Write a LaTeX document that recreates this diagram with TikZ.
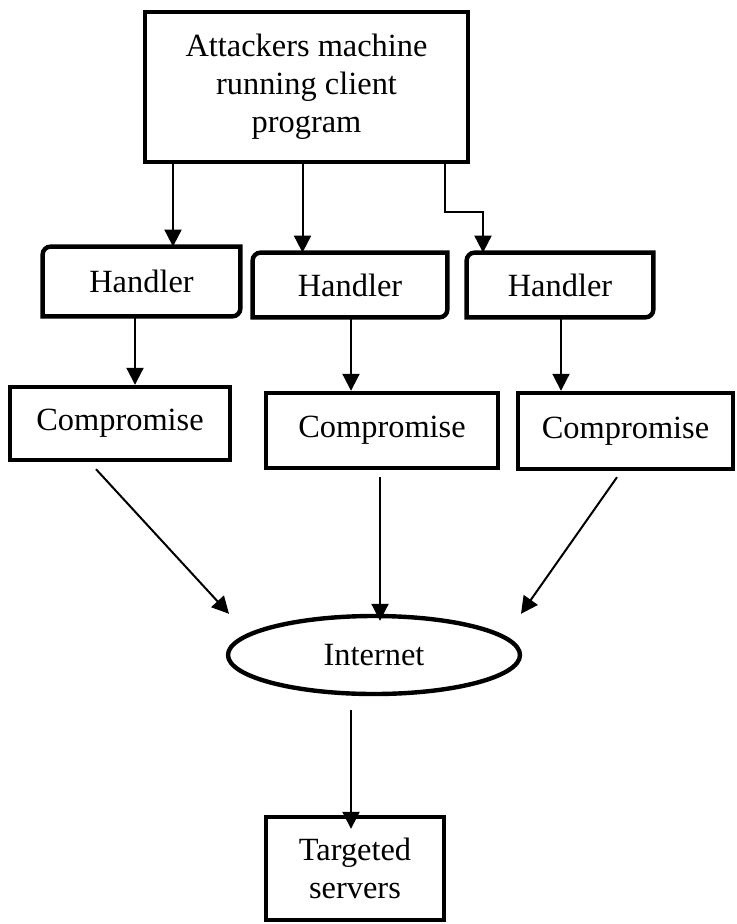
\documentclass[tikz,border=0pt]{standalone}
\usepackage{fontspec}
\setmainfont{Liberation Serif}
\usetikzlibrary{arrows.meta,shapes.geometric}

\begin{document}
\begin{tikzpicture}[
        x=0.5pt, y=-0.5pt,
        font=\fontsize{16.2}{19}\selectfont,
        >=Latex,
        host/.style={draw=black, line width=2.2pt, align=center, inner sep=2pt, minimum width=161.5pt, minimum height=75pt},
        handler/.style={align=center, inner sep=2pt},
        border/.style={draw=black, line width=2.2pt},
        zombie/.style={draw=black, line width=2.2pt, align=center, inner sep=2pt, minimum height=37pt},
        net/.style={ellipse, draw=black, line width=2.2pt, inner sep=0pt, minimum width=146pt, minimum height=39pt},
        victim/.style={draw=black, line width=2.2pt, align=center, inner sep=2pt, minimum width=89pt, minimum height=51.5pt},
        link/.style={draw=black, line width=1pt, -{Triangle[length=8.5pt,width=8.5pt]}}
    ]
        \useasboundingbox (0,0) rectangle (737,924);

        \node[host] (attack) at (306.5,87) {Attackers machine\\running client\\program};

        \node[handler, minimum width=98.5pt, minimum height=34.5pt] (h1) at (141.5,281.5) {Handler};
        \node[handler, minimum width=97pt, minimum height=32pt] (h2) at (350,285) {Handler};
        \node[handler, minimum width=93pt, minimum height=32pt] (h3) at (560,285) {Handler};

        % handler outline: round top left and bottom right only
        \foreach \h in {h1,h2,h3}
            \draw[border] (\h.south west) -- ([yshift=-4pt]\h.north west) arc(180:90:4pt)
                -- (\h.north east) -- ([yshift=4pt]\h.south east) arc(0:-90:4pt) -- cycle;

        \node[zombie, minimum width=110pt, minimum height=36.5pt] (c1) at (120,423.5) {Compromise};
        \node[zombie, minimum width=116pt, minimum height=37.5pt] (c2) at (382,430.5) {Compromise};
        \node[zombie, minimum width=107.5pt, minimum height=38pt] (c3) at (625.5,431) {Compromise};

        \node[net] (inet) at (374,655) {Internet};
        \node[victim] (target) at (355,868.5) {Targeted\\servers};

        \draw[link] ([xshift=-66.75pt]attack.south) -- ([xshift=-66.75pt]attack.south |- h1.north);
        \draw[link] ([xshift=-2pt]attack.south) -- ([xshift=-2pt]attack.south |- h2.north);
        \draw[link] ([xshift=69.25pt]attack.south) -- ++(0,-24pt) -| ([xshift=-38.5pt]h3.north);

        \draw[link] ([xshift=-3.25pt]h1.south) -- ([xshift=-3.25pt]h1.south |- c1.north);
        \draw[link] ([xshift=0.5pt]h2.south) -- ([xshift=0.5pt]h2.south |- c2.north);
        \draw[link] ([xshift=0.5pt]h3.south) -- ([xshift=0.5pt]h3.south |- c3.north);

        \draw[link] ([shift={(-12pt,-3.5pt)}]c1.south) -- ([xshift=-72.5pt]inet.north);
        \draw[link] ([shift={(-1pt,-3.5pt)}]c2.south) -- ([shift={(-1pt,-3.5pt)}]c2.south |- inet.north);
        \draw[link] ([shift={(-4.25pt,-3pt)}]c3.south) -- ([xshift=73.5pt]inet.north);

        \draw[link] ([shift={(-11.5pt,-7pt)}]inet.south) -- ([shift={(-11.5pt,-7pt)}]inet.south |- target.north);
    \end{tikzpicture}
\end{document}
